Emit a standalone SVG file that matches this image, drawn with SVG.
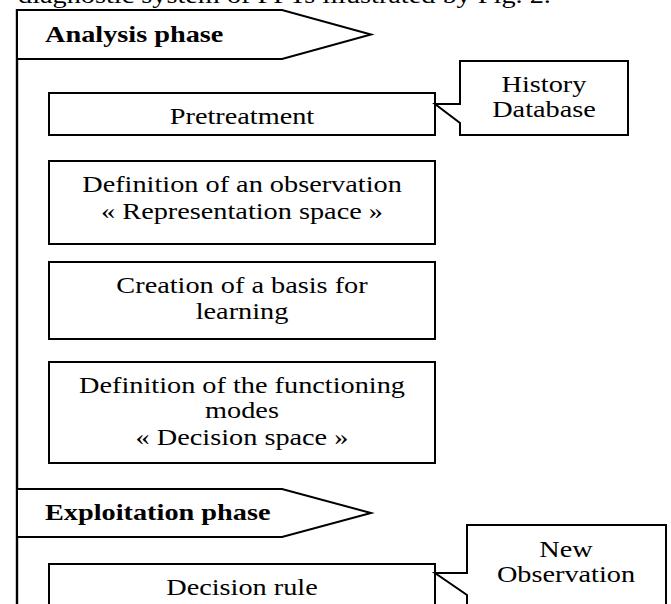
<svg xmlns="http://www.w3.org/2000/svg" width="671" height="604" viewBox="0 0 671 604">
<style>
  .shape { fill: #ffffff; stroke: #000000; stroke-width: 2; stroke-linejoin: miter; }
  .line { fill: none; stroke: #000000; stroke-width: 2.4; }
  .t { font-family: "Liberation Serif", "Times New Roman", serif; font-size: 23px; fill: #000000; }
  .c { text-anchor: middle; }
  .b { font-weight: bold; }
</style>
<rect x="0" y="0" width="671" height="604" fill="#ffffff"/>
<text class="t" x="0" y="3" transform="translate(18 0) scale(1.23 1)">diagnostic system of FFTs illustrated by Fig. 2.</text>
<g id="connectors">
  <line class="line" x1="17" y1="9" x2="17" y2="610"/>
</g>
<g id="analysis-phase">
  <polygon class="shape" points="17,10 282,10 371,34.5 282,59 17,59"/>
  <text class="t b" x="0" y="42" transform="translate(45 0) scale(1.23 1)">Analysis phase</text>
</g>
<g id="pretreatment">
  <rect class="shape" x="49" y="93" width="386" height="42"/>
  <text class="t c" x="0" y="124" transform="translate(242 0) scale(1.23 1)">Pretreatment</text>
</g>
<g id="history-database">
  <polygon class="shape" points="460,61 628,61 628,135 460,135 460,123 435,104 460,104"/>
  <text class="t c" x="0" y="92" transform="translate(544 0) scale(1.23 1)">History</text>
  <text class="t c" x="0" y="117" transform="translate(544 0) scale(1.23 1)">Database</text>
</g>
<g id="representation-space">
  <rect class="shape" x="49" y="161" width="386" height="83"/>
  <text class="t c" x="0" y="192" transform="translate(242 0) scale(1.23 1)">Definition of an observation</text>
  <text class="t c" x="0" y="219" transform="translate(242 0) scale(1.23 1)">« Representation space »</text>
</g>
<g id="learning-basis">
  <rect class="shape" x="49" y="262" width="386" height="77"/>
  <text class="t c" x="0" y="293" transform="translate(242 0) scale(1.23 1)">Creation of a basis for</text>
  <text class="t c" x="0" y="319" transform="translate(242 0) scale(1.23 1)">learning</text>
</g>
<g id="decision-space">
  <rect class="shape" x="49" y="362" width="386" height="101"/>
  <text class="t c" x="0" y="393" transform="translate(242 0) scale(1.23 1)">Definition of the functioning</text>
  <text class="t c" x="0" y="418" transform="translate(242 0) scale(1.23 1)">modes</text>
  <text class="t c" x="0" y="445" transform="translate(242 0) scale(1.23 1)">« Decision space »</text>
</g>
<g id="exploitation-phase">
  <polygon class="shape" points="17,489 282,489 371,513 282,537 17,537"/>
  <text class="t b" x="0" y="520" transform="translate(45 0) scale(1.23 1)">Exploitation phase</text>
</g>
<g id="decision-rule">
  <rect class="shape" x="49" y="564" width="386" height="60"/>
  <text class="t c" x="0" y="595" transform="translate(242 0) scale(1.23 1)">Decision rule</text>
</g>
<g id="new-observation">
  <polygon class="shape" points="467,525 666,525 666,620 467,620 467,595 435,573 467,573"/>
  <text class="t c" x="0" y="557" transform="translate(566 0) scale(1.23 1)">New</text>
  <text class="t c" x="0" y="582" transform="translate(566 0) scale(1.23 1)">Observation</text>
</g>
</svg>
